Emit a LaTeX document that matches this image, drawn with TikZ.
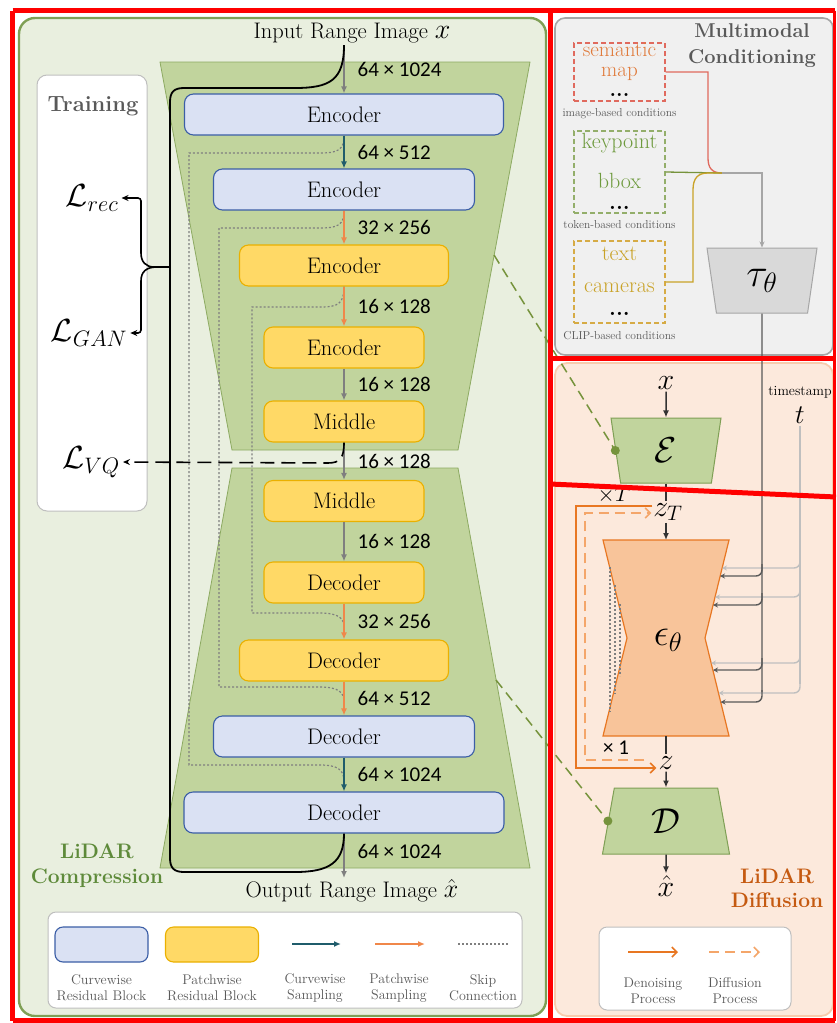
\RequirePackage{fix-cm}
\documentclass[tikz,border=0pt]{standalone}
\usepackage{fontspec}
\usepackage{amsmath}
\usepackage{amssymb}
\usepackage{tikz}
\usetikzlibrary{positioning,shapes.geometric,arrows.meta,calc}
\newfontfamily\carlito{Carlito}
\newcommand{\fsz}[2]{\fontsize{#1}{#2}\selectfont}

\definecolor{comprfill}{HTML}{E9EFDF}
\definecolor{comprborder}{HTML}{7F9F55}
\definecolor{trapfill}{HTML}{C1D49D}
\definecolor{trapborder}{HTML}{8DAA62}
\definecolor{curvefill}{HTML}{DAE1F3}
\definecolor{curveborder}{HTML}{3B5EA6}
\definecolor{patchfill}{HTML}{FFD966}
\definecolor{patchborder}{HTML}{EAB000}
\definecolor{curvearrow}{HTML}{1F5C6B}
\definecolor{patcharrow}{HTML}{F0874A}
\definecolor{midgray}{HTML}{7F7F7F}
\definecolor{textgray}{HTML}{595959}
\definecolor{boxgray}{HTML}{BFBFBF}
\definecolor{condfill}{HTML}{F0F0F0}
\definecolor{condborder}{HTML}{A6A6A6}
\definecolor{semred}{HTML}{E06A5E}
\definecolor{semorange}{HTML}{E07A3A}
\definecolor{kpgreen}{HTML}{6E9A3E}
\definecolor{kpdash}{HTML}{93AE6A}
\definecolor{clipgold}{HTML}{C9A227}
\definecolor{clipdash}{HTML}{D6AB45}
\definecolor{taufill}{HTML}{D9D9D9}
\definecolor{difffill}{HTML}{FCE9DC}
\definecolor{diffborder}{HTML}{F8CBAD}
\definecolor{epsfill}{HTML}{F8C49A}
\definecolor{denoiseorange}{HTML}{E87722}
\definecolor{diffuseorange}{HTML}{F4A66A}
\definecolor{difftitle}{HTML}{C55A11}
\definecolor{comprtitle}{HTML}{5E8A3A}
\definecolor{linkgreen}{HTML}{76933C}
\definecolor{darkgrey}{HTML}{333333}
\definecolor{taugrey}{HTML}{595959}
\definecolor{tgrey}{HTML}{BFBFBF}

\tikzset{
  blk/.style={rounded corners=9pt, line width=1.1pt, minimum height=41pt, inner sep=0pt, font=\fsz{22.5}{26}},
  curveblk/.style={blk, draw=curveborder, fill=curvefill},
  patchblk/.style={blk, draw=patchborder, fill=patchfill},
  flow/.style={line width=1.4pt, draw=midgray, -{Latex[length=7pt,width=6pt]}},
  curveflow/.style={flow, draw=curvearrow},
  patchflow/.style={flow, draw=patcharrow},
  dimlbl/.style={font=\carlito\fsz{21}{24}, inner sep=0pt, right=13pt},
  skip/.style={draw=midgray, line width=1.2pt, dash pattern=on 2pt off 2pt},
  lossarr/.style={line width=1.6pt, -{Stealth[length=7pt,width=6pt]}},
  lossname/.style={font=\fsz{32}{36}, inner sep=3pt},
  condbox/.style={dash pattern=on 5pt off 3pt, line width=1.2pt, minimum width=91pt, inner sep=0pt},
  condtxt/.style={font=\fsz{22}{26}, inner sep=0pt, align=center},
  condcap/.style={font=\fsz{11.5}{13}, text=textgray, inner sep=0pt},
  linkdash/.style={draw=linkgreen, line width=1.5pt, dash pattern=on 10pt off 6pt},
  linkdot/.style={circle, fill=linkgreen, inner sep=0pt, minimum size=9pt},
  latent/.style={trapezium, trapezium stretches body, fill=trapfill, draw=comprborder, line width=1pt, font=\fsz{36}{38}},
  mathlbl/.style={font=\fsz{30}{32}, inner sep=2pt},
  darkarr/.style={draw=darkgrey, line width=1.5pt, -{Latex[length=7pt,width=6pt]}},
  denoise/.style={draw=denoiseorange, line width=1.6pt, -{Straight Barb[length=5pt,width=10pt]}},
  diffuse/.style={draw=diffuseorange, line width=1.6pt, dash pattern=on 10pt off 6pt, -{Straight Barb[length=5pt,width=10pt]}},
  legtxt/.style={font=\fsz{14}{16}, text=textgray, align=center, inner sep=0pt},
  annot/.style={draw=red, line width=5pt},
}

\begin{document}
\begin{tikzpicture}[x=1pt, y=-1pt]
\useasboundingbox (0,0) rectangle (836,1023);

% panels
\draw[fill=comprfill, draw=comprborder, line width=2.4pt, rounded corners=16pt] (19,18) rectangle (546,1016);
\draw[fill=condfill, draw=condborder, line width=1.6pt, rounded corners=10pt] (555,18) rectangle (833,355);
\draw[fill=difffill, draw=diffborder, line width=1.8pt, rounded corners=12pt] (555,363) rectangle (833,1016);

% training box
\draw[fill=white, draw=boxgray, line width=1pt, rounded corners=10pt] (37,75) rectangle (147,511);
\node[font=\bfseries\fsz{22}{26}, text=textgray] (train) at (93,106) {Training};

% encoder and decoder
\draw[fill=trapfill, draw=trapborder, line width=0.8pt] (160,62) -- (530,62) -- (458,450) -- (232,450) -- cycle;
\draw[fill=trapfill, draw=trapborder, line width=0.8pt] (232,468) -- (458,468) -- (530,868) -- (160,868) -- cycle;

\node[font=\fsz{22.5}{26}, inner sep=2pt] (inimg) at (352,33) {Input Range Image {\fsz{28}{28}$x$}};
\node[font=\fsz{22.5}{26}, inner sep=1pt] (outimg) at (352,891) {Output Range Image {\fsz{26}{26}$\hat{x}$}};
\coordinate (outtop) at (344,878);

\node[curveblk, minimum width=319pt] (enc1) at (344,114.5) {Encoder};
\node[curveblk, minimum width=261pt] (enc2) at (344,189.5) {Encoder};
\node[patchblk, minimum width=209pt] (enc3) at (344,265.5) {Encoder};
\node[patchblk, minimum width=160pt] (enc4) at (344,347.5) {Encoder};
\node[patchblk, minimum width=160pt] (mid1) at (344,421.5) {Middle};
\node[patchblk, minimum width=160pt] (mid2) at (344,501) {Middle};
\node[patchblk, minimum width=160pt] (dec1) at (344,582.5) {Decoder};
\node[patchblk, minimum width=209pt] (dec2) at (344,660.5) {Decoder};
\node[curveblk, minimum width=261pt] (dec3) at (344,736.5) {Decoder};
\node[curveblk, minimum width=320pt] (dec4) at (344,812.5) {Decoder};

\coordinate (sk1) at ($(dec3.south)!0.7!(dec4.north)$);
\coordinate (sk2) at ($(dec2.south)!0.6!(dec3.north)$);
\coordinate (sk3) at ($(dec1.south)!0.65!(dec2.north)$);

% skip connections
\draw[skip] (enc1.south) .. controls (344,150) and (338,153) .. (320,153) -- (189,153) -- (189,765) -- (320,765) .. controls (338,765) and (344,770) .. (sk1);
\draw[skip] (enc2.south) .. controls (344,225) and (338,228) .. (320,228) -- (219,228) -- (219,687) -- (320,687) .. controls (338,687) and (344,692) .. (sk2);
\draw[skip] (enc3.south) .. controls (344,304) and (338,307) .. (320,307) -- (252,307) -- (252,613) -- (320,613) .. controls (338,613) and (344,618) .. (sk3);

\draw[flow] (inimg.south -| enc1.north) -- (enc1.north) node[dimlbl, midway] {64 × 1024};
\draw[curveflow] (enc1.south) -- (enc2.north) node[dimlbl, midway] {64 × 512};
\draw[patchflow] (enc2.south) -- (enc3.north) node[dimlbl, midway] {32 × 256};
\draw[patchflow] (enc3.south) -- (enc4.north) node[dimlbl, midway] {16 × 128};
\draw[flow] (enc4.south) -- (mid1.north) node[dimlbl, midway] {16 × 128};
\draw[flow] (mid1.south) -- (mid2.north) node[dimlbl, midway] {16 × 128};
\draw[flow] (mid2.south) -- (dec1.north) node[dimlbl, midway] {16 × 128};
\draw[patchflow] (dec1.south) -- (dec2.north) node[dimlbl, midway] {32 × 256};
\draw[patchflow] (dec2.south) -- (dec3.north) node[dimlbl, midway] {64 × 512};
\draw[curveflow] (dec3.south) -- (dec4.north) node[dimlbl, midway] {64 × 1024};
\draw[flow] (dec4.south) -- (outtop) node[dimlbl, pos=0.4] {64 × 1024};

% losses
\node[lossname] (lrec) at (92,198) {$\mathcal{L}_{rec}$};
\node[lossname] (lgan) at (89,333) {$\mathcal{L}_{GAN}$};
\node[lossname] (lvq) at (91,462) {$\mathcal{L}_{VQ}$};

\draw[line width=1.8pt] (inimg.south -| enc1.north) .. controls (344,80) and (330,88) .. (295,88) -- (184,88) .. controls (174,88) and (170,92) .. (170,102) -- (170,858) .. controls (170,868) and (174,872) .. (184,872) -- (295,872) .. controls (330,872) and (344,862) .. (dec4.south);
\draw[lossarr, rounded corners=3pt] (170,267) -- (157,267) .. controls (146,267) and (141,262) .. (141,250) |- (lrec.east);
\draw[lossarr, rounded corners=3pt] (157,267) .. controls (146,267) and (141,272) .. (141,284) |- (lgan.east);
\draw[lossarr, dash pattern=on 14pt off 7pt] (mid1.south) .. controls (344,458) and (340,463) .. (328,463) -- (lvq.east);

\node[font=\bfseries\fsz{21}{25}, text=comprtitle, align=center] (comprtitle) at (97,866) {LiDAR\\Compression};

% legend of the compression panel
\draw[fill=white, draw=boxgray, line width=1pt, rounded corners=8pt] (48,912) rectangle (522,1008);
\node[curveblk, minimum width=93pt, minimum height=35pt, rounded corners=8pt] (lgcurve) at (101.5,944.5) {};
\node[patchblk, minimum width=93pt, minimum height=35pt, rounded corners=8pt] (lgpatch) at (212,944.5) {};
\coordinate (lgca) at (292,944); \coordinate (lgcb) at (341,944);
\coordinate (lgpa) at (375,944); \coordinate (lgpb) at (425,944);
\coordinate (lgsa) at (458,944); \coordinate (lgsb) at (508,944);
\draw[curveflow] (lgca) -- (lgcb);
\draw[patchflow] (lgpa) -- (lgpb);
\draw[skip] (lgsa) -- (lgsb);
\node[legtxt] (lgcurvetxt) at (101.5,988) {Curvewise\\Residual Block};
\node[legtxt] (lgpatchtxt) at (212,988) {Patchwise\\Residual Block};
\node[legtxt] (lgcsmp) at (315,988) {Curvewise\\Sampling};
\node[legtxt] (lgpsmp) at (399,988) {Patchwise\\Sampling};
\node[legtxt] (lgskip) at (483,988) {Skip\\Connection};

% multimodal conditioning
\node[font=\bfseries\fsz{20}{26}, text=textgray, align=center] (condtitle) at (752,46) {Multimodal\\Conditioning};

\node[condbox, draw=semred, minimum height=58pt] (sembox) at (619.5,72) {};
\node[condtxt, font=\fsz{21}{20}, text=semorange] (semtxt) at (619.5,70) {semantic\\map\\{\color{black}\bfseries ...}};
\node[condcap] (semcap) at (619.5,114) {image-based conditions};

\node[condbox, draw=kpdash, minimum height=82pt] (kpbox) at (619.5,172) {};
\node[condtxt, text=kpgreen] (kptxt) at (619.5,143) {keypoint};
\node[condtxt, font=\fsz{22}{21}, text=kpgreen] (bboxtxt) at (619.5,191) {bbox\\{\color{black}\bfseries ...}};
\node[condcap] (kpcap) at (619.5,225) {token-based conditions};

\node[condbox, draw=clipdash, minimum height=82pt] (txtbox) at (619.5,282) {};
\node[condtxt, text=clipgold] (texttxt) at (619.5,254) {text};
\node[condtxt, font=\fsz{22}{23}, text=clipgold] (camtxt) at (619.5,299) {cameras\\{\color{black}\bfseries ...}};
\node[condcap] (txtcap) at (619.5,336) {CLIP-based conditions};

\node[latent, fill=taufill, draw=condborder, trapezium angle=72.5, shape border rotate=180, minimum width=110pt, minimum height=65pt, font=\fsz{40}{42}] (tau) at (762,280.5) {$\tau_\theta$};

\coordinate (cond) at (722,173);
\draw[draw=semred, line width=1.3pt] (sembox.east) -- (708,72) -- (708,158) .. controls (708,168) and (712,173) .. (cond);
\draw[draw=linkgreen, line width=1.3pt] (kpbox.east) -- (cond);
\draw[draw=clipgold, line width=1.3pt] (txtbox.east) -- (693,282) -- (693,190) .. controls (693,178) and (698,173) .. (708,173) -- (cond);
\draw[draw=condborder, line width=1.3pt, -{Stealth[length=6pt,width=5pt]}] (cond) -| (tau.north);

% diffusion
\node[latent, trapezium angle=72.9, shape border rotate=180, minimum width=110pt, minimum height=65pt] (bigE) at (666,450.5) {$\mathcal{E}$};
\node[latent, trapezium angle=69.3, minimum width=127pt, minimum height=66pt] (bigD) at (666,821) {$\mathcal{D}$};

\draw[fill=epsfill, draw=denoiseorange, line width=1.2pt] (603,540) -- (729,540) -- (705,638) -- (729,736) -- (603,736) -- (627,638) -- cycle;
\node[font=\fsz{38}{40}] (eps) at (668,640) {$\epsilon_\theta$};
\coordinate (epstop) at (666,540);
\coordinate (epsbot) at (666,736);
\draw[skip] (610,567) -- (610,712);
\draw[skip] (615,585) -- (615,694);
\draw[skip] (620,604) -- (620,676);

\node[mathlbl] (xin) at (666,383) {$x$};
\node[mathlbl] (zT) at (668,512) {$z_T$};
\node[mathlbl] (zz) at (666,763) {$z$};
\node[mathlbl] (xhat) at (666,886) {$\hat{x}$};
\draw[darkarr] (xin) -- (bigE.north);
\draw[draw=darkgrey, line width=1.5pt] (bigE.south) -- (zT.north -| bigE.south);
\draw[darkarr] (zT.south -| epstop) -- (epstop);
\draw[draw=darkgrey, line width=1.5pt] (epsbot) -- (zz.north);
\draw[darkarr] (zz.south) -- (bigD.north);
\draw[darkarr] (bigD.south) -- (xhat.north);

\node[font=\fsz{22}{24}] (xT) at (614,495) {$\times T$};
\node[font=\carlito\fsz{21}{24}] (x1) at (616,748) {× 1};

\draw[denoise] ($(zT.west)+(1,-6)$) -| (576,768) -- ($(zz.west)+(0,5)$);
\draw[diffuse] ($(zz.west)+(-12,-3)$) -| (585,513) -- ($(zT.west)+(0,1)$);

% timestamp and conditioning inputs
\node[font=\fsz{14}{16}] (tstamp) at (800,392) {timestamp};
\node[font=\fsz{27}{28}, inner sep=2pt] (tt) at (800,415) {$t$};
\draw[draw=tgrey, line width=1.4pt] (tt.south) -- (800,684);
\foreach \y/\xe in {568/722, 597/715, 663/711, 693/718.5}
  \draw[draw=tgrey, line width=1.4pt, rounded corners=6pt, -{Stealth[length=5pt,width=5pt]}] (800,\y-12) |- (\xe,\y);
\draw[draw=taugrey, line width=1.4pt] (tau.south) -- (762,692);
\foreach \y/\xe in {576/720, 605/713, 670/713, 702/720.5}
  \draw[draw=taugrey, line width=1.4pt, rounded corners=6pt, -{Stealth[length=5pt,width=5pt]}] (762,\y-12) |- (\xe,\y);

% links between the panels
\coordinate (encside) at (494,255);
\coordinate (decside) at (496,680);
\draw[linkdash] (encside) -- (bigE.west);
\draw[linkdash] (decside) -- (bigD.west);
\node[linkdot] (edot) at (bigE.west) {};
\node[linkdot] (ddot) at (bigD.west) {};

\node[font=\bfseries\fsz{21}{24}, text=difftitle, align=center] (difftitle) at (777,888) {LiDAR\\Diffusion};

% legend of the diffusion panel
\draw[fill=white, draw=boxgray, line width=1pt, rounded corners=8pt] (599,927) rectangle (791,1010);
\coordinate (ldna) at (628,952); \coordinate (ldnb) at (678,952);
\coordinate (ldfa) at (709,952); \coordinate (ldfb) at (760,952);
\draw[denoise] (ldna) -- (ldnb);
\draw[diffuse] (ldfa) -- (ldfb);
\node[legtxt] (lgdenoise) at (653,991) {Denoising\\Process};
\node[legtxt] (lgdiffuse) at (735,991) {Diffusion\\Process};

% red frames
\draw[annot] (12.5,10.5) -- (834.5,10.5);
\draw[annot] (12.5,10.5) -- (12.5,1020.5);
\draw[annot] (12.5,1020.5) -- (834.5,1020.5);
\draw[annot] (550,10.5) -- (550,1020.5);
\draw[annot, line width=3pt] (834.5,10.5) -- (834.5,1020.5);
\draw[annot] (550,358) -- (836,358);
\draw[annot] (550,484) -- (836,497);
\end{tikzpicture}
\end{document}
